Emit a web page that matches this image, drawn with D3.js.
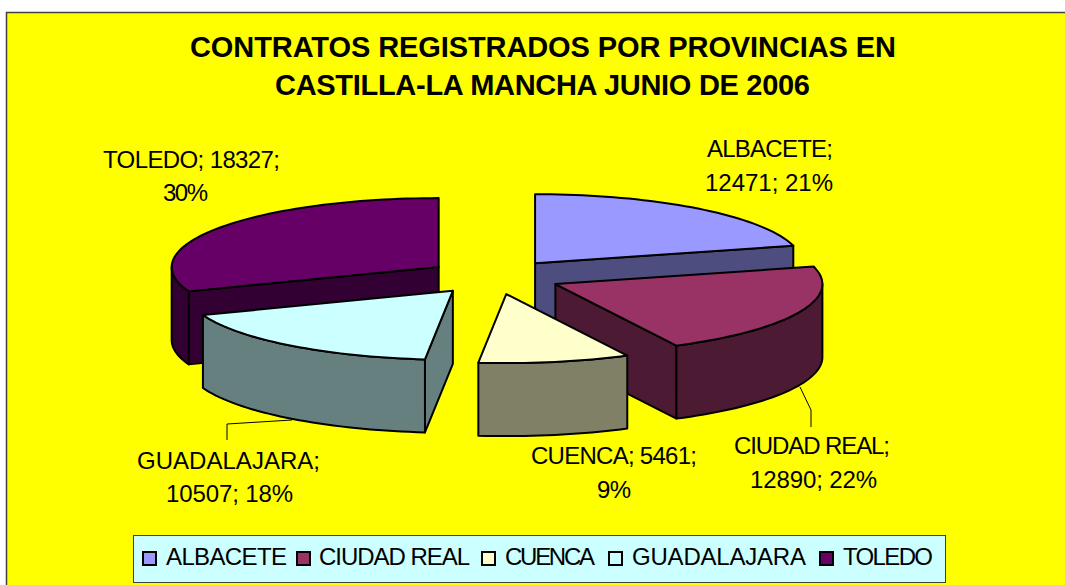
<!DOCTYPE html>
<html>
<head>
<meta charset="utf-8">
<script src="https://cdn.jsdelivr.net/npm/d3@7/dist/d3.min.js"></script>
<style>
html,body{margin:0;padding:0;background:#fff;overflow:hidden}
svg{display:block}
text{font-family:"Liberation Sans",Arial,sans-serif;fill:#000}
</style>
</head>
<body>
<div id="chart"></div>
<script>
// ---- data ----
const categories = ["ALBACETE", "CIUDAD REAL", "CUENCA", "GUADALAJARA", "TOLEDO"];
const values = [12471, 12890, 5461, 10507, 18327];
const percents = [21, 22, 9, 18, 30];
const titleLines = ["CONTRATOS REGISTRADOS POR PROVINCIAS EN", "CASTILLA-LA MANCHA JUNIO DE 2006"];

// ---- styles ----
const topColors = ["#9999FF", "#993366", "#FFFFCC", "#CCFFFF", "#660066"];
const sideColors = ["#4D4D80", "#4D1A33", "#808066", "#668080", "#330033"];

// ---- layout ----
const W = 1065, H = 585;
const center = {x: 494, y: 277}, rx = 267, ry = 69, depth = 73, explode = 0.252;
const drawOrder = [4, 0, 1, 3, 2];
const titleLayout = [[190, 706, 57], [275, 535, 95]];
const labelLayout = [
  {i: 0, lines: d => [`${d.c};`, `${d.v}; ${d.p}%`], pos: [[707, 126, 157], [705, 128, 191]]},
  {i: 1, lines: d => [`${d.c};`, `${d.v}; ${d.p}%`], pos: [[734, 156, 454], [750, 127, 488]]},
  {i: 2, lines: d => [`${d.c}; ${d.v};`, `${d.p}%`], pos: [[531, 166, 464], [597, 34, 498]]},
  {i: 3, lines: d => [`${d.c};`, `${d.v}; ${d.p}%`], pos: [[137, 183, 469], [166, 127, 502]]},
  {i: 4, lines: d => [`${d.c}; ${d.v};`, `${d.p}%`], pos: [[103, 177, 168], [163, 45, 201]]}
];
const leaders = [
  [[800, 387], [811, 410], [811, 427]],
  [[292, 420], [227, 424], [227, 440]]
];
const legendLayout = [
  {mark: 143, x: 166, w: 121},
  {mark: 297, x: 319, w: 151},
  {mark: 482, x: 505, w: 90},
  {mark: 609, x: 632, w: 174},
  {mark: 820, x: 843, w: 90}
];

const svg = d3.select("#chart").append("svg").attr("width", W).attr("height", H);

// frame
svg.append("rect").attr("x", 6.5).attr("y", 12.5).attr("width", W + 20).attr("height", H + 20)
  .attr("fill", "#FFFF00").attr("stroke", "#404040").attr("stroke-width", 1.5);

// title
svg.append("g").selectAll("text").data(titleLines).join("text")
  .attr("x", (d, i) => titleLayout[i][0]).attr("y", (d, i) => titleLayout[i][2])
  .attr("textLength", (d, i) => titleLayout[i][1]).attr("lengthAdjust", "spacing")
  .attr("font-size", 29).attr("font-weight", "bold")
  .text(d => d);

// pie
const slices = d3.pie().sort(null).value(d => d)(values);
const xScale = d3.scaleLinear().domain([-1, 1]).range([-rx, rx]);
const yScale = d3.scaleLinear().domain([-1, 1]).range([-ry, ry]);
const line = d3.line();

function apex(s) {
  const m = (s.startAngle + s.endAngle) / 2;
  return [center.x + xScale(Math.sin(m)) * explode, center.y - yScale(Math.cos(m)) * explode];
}
function rimPoint(a, t, dy = 0) {
  return [a[0] + xScale(Math.sin(t)), a[1] - yScale(Math.cos(t)) + dy];
}
function arcPoints(a, t0, t1, dy = 0) {
  const n = Math.max(2, Math.ceil((t1 - t0) / 0.03));
  return d3.range(n + 1).map(k => rimPoint(a, t0 + (t1 - t0) * k / n, dy));
}

const pieG = svg.append("g").attr("stroke", "#000").attr("stroke-width", 2).attr("stroke-linejoin", "round");

drawOrder.forEach(idx => {
  const s = slices[idx];
  const a = apex(s);
  const t0 = s.startAngle, t1 = s.endAngle;
  const g = pieG.append("g");
  const side = sideColors[idx];
  const addWall = pts => g.append("path").attr("d", line(pts) + "Z").attr("fill", side);

  if (-Math.cos(t0 - Math.PI / 2) > 0) {
    const p = rimPoint(a, t0);
    addWall([a, p, [p[0], p[1] + depth], [a[0], a[1] + depth]]);
  }
  if (-Math.cos(t1 + Math.PI / 2) > 0) {
    const p = rimPoint(a, t1);
    addWall([a, p, [p[0], p[1] + depth], [a[0], a[1] + depth]]);
  }
  const r0 = Math.max(t0, Math.PI / 2), r1 = Math.min(t1, 3 * Math.PI / 2);
  if (r1 > r0) {
    addWall(arcPoints(a, r0, r1).concat(arcPoints(a, r0, r1, depth).reverse()));
  }
  g.append("path").attr("d", line([a].concat(arcPoints(a, t0, t1))) + "Z").attr("fill", topColors[idx]);
});

// leader lines
svg.append("g").selectAll("path").data(leaders).join("path")
  .attr("d", d => line(d)).attr("fill", "none").attr("stroke", "#000").attr("stroke-width", 1);

// data labels
const labelG = svg.append("g").attr("font-size", 24);
labelLayout.forEach(l => {
  const d = {c: categories[l.i], v: values[l.i], p: percents[l.i]};
  l.lines(d).forEach((txt, k) => {
    labelG.append("text").attr("x", l.pos[k][0]).attr("y", l.pos[k][2])
      .attr("textLength", l.pos[k][1]).attr("lengthAdjust", "spacing").text(txt);
  });
});

// legend
const legend = svg.append("g");
legend.append("rect").attr("x", 133.5).attr("y", 535.5).attr("width", 812).attr("height", 47)
  .attr("fill", "#CCFFFF").attr("stroke", "#404040").attr("stroke-width", 1);
categories.forEach((c, i) => {
  legend.append("rect").attr("x", legendLayout[i].mark).attr("y", 552).attr("width", 13).attr("height", 13)
    .attr("fill", topColors[i]).attr("stroke", "#000").attr("stroke-width", 2);
  legend.append("text").attr("x", legendLayout[i].x).attr("y", 565).attr("font-size", 24)
    .attr("textLength", legendLayout[i].w).attr("lengthAdjust", "spacing").text(c);
});
</script>
</body>
</html>
